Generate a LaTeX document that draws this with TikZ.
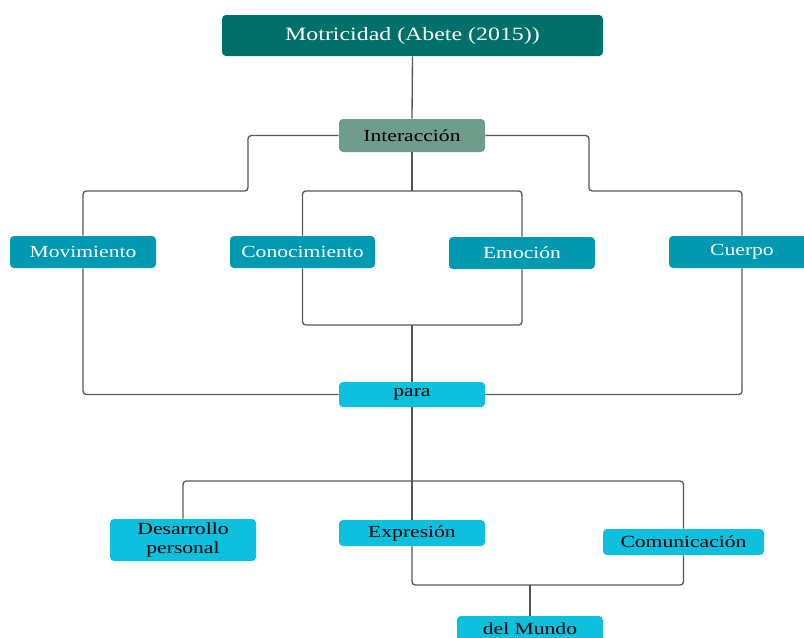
\documentclass[tikz,border=0pt]{standalone}
\usepackage{fontspec}
\setmainfont{Liberation Serif}[FakeStretch=1.27]
\begin{document}
\begin{tikzpicture}[x=0.75pt,y=-0.75pt]
  \definecolor{topcol}{HTML}{00706A}
  \definecolor{intcol}{HTML}{709C8C}
  \definecolor{midcol}{HTML}{0099B2}
  \definecolor{lowcol}{HTML}{0CC0DE}
  \definecolor{wirecol}{HTML}{585858}
  \tikzset{
    box/.style={rectangle, rounded corners=3pt, inner sep=0pt, align=center,
      font=\fontsize{12.75}{14.2}\selectfont},
    topbox/.style={box, fill=topcol, text=white, font=\fontsize{14.1}{16}\selectfont},
    intbox/.style={box, fill=intcol, text=black},
    midbox/.style={box, fill=midcol, text=white},
    lowbox/.style={box, fill=lowcol, text=black},
    wire/.style={draw=wirecol, line width=1pt, rounded corners=2.5pt},
  }
  \clip (0,0) rectangle (804,637);
  \fill[white] (0,0) rectangle (804,637);

  % nodes
  \node[topbox, minimum width=381*0.75pt, minimum height=41*0.75pt] (top) at (412.5,35.5) {Motricidad (Abete (2015))};
  \node[intbox, minimum width=146*0.75pt, minimum height=33*0.75pt] (inter) at (412,135.5) {Interacción};
  \node[midbox, minimum width=146*0.75pt, minimum height=32*0.75pt] (mov) at (83,252) {Movimiento};
  \node[midbox, minimum width=145*0.75pt, minimum height=32*0.75pt] (con) at (302.5,252) {Conocimiento};
  \node[midbox, minimum width=146*0.75pt, minimum height=32*0.75pt] (emo) at (522,253) {Emoción};
  \node[midbox, minimum width=146*0.75pt, minimum height=32*0.75pt] (cue) at (742,252) {Cuerpo};
  \node[lowbox, minimum width=146*0.75pt, minimum height=25*0.75pt] (para) at (412,394.5) {para};
  \node[lowbox, minimum width=146*0.75pt, minimum height=42*0.75pt] (des) at (183,540) {Desarrollo\\personal};
  \node[lowbox, minimum width=146*0.75pt, minimum height=26*0.75pt] (exp) at (412,533) {Expresión};
  \node[lowbox, minimum width=161*0.75pt, minimum height=26*0.75pt] (com) at (683.5,542) {Comunicación};
  \node[lowbox, minimum width=146*0.75pt, minimum height=26*0.75pt] (mun) at (530,629) {del Mundo};

  % bus points
  \coordinate (j1) at (412,191);
  \coordinate (j2) at (412,325);
  \coordinate (j3) at (412,481);
  \coordinate (j4) at (530,585);

  % connectors
  \draw[wire] (top.south) -- (inter.north);
  \draw[wire] (inter.west) -- (248,135.5) -- (248,191) -- (83,191) -- (mov.north);
  \draw[wire] (inter.east) -- (589,135.5) -- (589,191) -- (742,191) -- (cue.north);
  \draw[wire] (inter.south) -- (j1);
  \draw[wire] (j1) -| (con.north);
  \draw[wire] (j1) -| (emo.north);
  \draw[wire] (con.south) |- (j2);
  \draw[wire] (emo.south) |- (j2);
  \draw[wire] (j2) -- (para.north);
  \draw[wire] (mov.south) |- (para.west);
  \draw[wire] (cue.south) |- (para.east);
  \draw[wire] (para.south) -- (exp.north);
  \draw[wire] (j3) -| (des.north);
  \draw[wire] (j3) -| (com.north);
  \draw[wire] (exp.south) |- (j4);
  \draw[wire] (com.south) |- (j4);
  \draw[wire] (j4) -- (mun.north);
\end{tikzpicture}
\end{document}
